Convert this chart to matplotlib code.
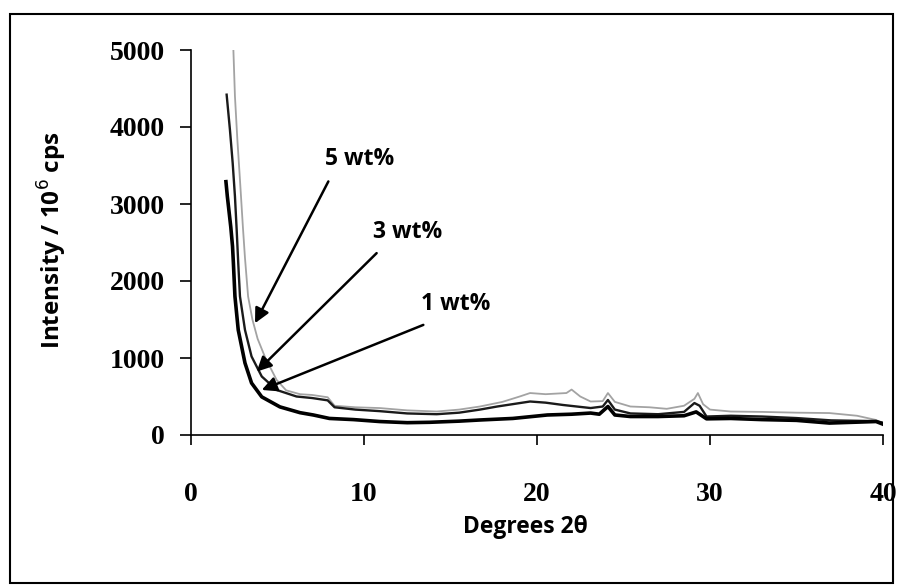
import matplotlib
matplotlib.use("Agg")
import matplotlib.pyplot as plt
from matplotlib.patches import Rectangle

# XRD traces (2-theta in degrees, intensity in 10^6 cps)
x_1wt = [2.02, 2.10, 2.20, 2.30, 2.40, 2.45, 2.54, 2.73, 3.12, 3.50, 4.09, 5.14,
         6.30, 7.07, 8.00, 9.40, 10.9, 12.5, 13.8, 15.5, 16.7, 18.6, 20.6, 22.0,
         23.1, 23.6, 24.1, 24.5, 25.4, 27.0, 28.5, 29.2, 29.8, 31.2, 33.0, 35.0,
         36.9, 39.6, 40.0]
y_1wt = [3290, 3100, 2900, 2700, 2450, 2235, 1800, 1365, 935, 675, 495, 365,
         290, 260, 215, 200, 175, 160, 165, 180, 195, 215, 260, 270,
         285, 270, 370, 260, 240, 240, 250, 300, 210, 215, 200, 190,
         155, 175, 140]

x_3wt = [2.06, 2.25, 2.41, 2.54, 2.64, 2.73, 2.83, 3.12, 3.50, 4.09, 4.95, 6.10,
         7.00, 7.90, 8.30, 9.50, 10.9, 12.5, 14.2, 15.5, 16.7, 17.7, 19.6, 20.5,
         21.5, 23.1, 23.8, 24.1, 24.5, 25.4, 27.0, 28.5, 29.1, 29.4, 29.8, 31.2,
         33.0, 35.0, 37.0, 39.6, 40.0]
y_3wt = [4420, 3965, 3530, 3100, 2665, 2235, 1800, 1365, 1020, 760, 585, 500,
         480, 450, 360, 330, 310, 280, 270, 290, 330, 370, 435, 420,
         390, 350, 370, 455, 330, 280, 270, 300, 415, 380, 240, 250,
         240, 220, 190, 180, 160]

x_5wt = [2.45, 2.54, 2.68, 2.83, 3.00, 3.12, 3.30, 3.55, 3.85, 4.30, 4.95, 5.50,
         6.30, 7.00, 7.90, 8.30, 9.50, 10.9, 12.5, 14.2, 15.5, 16.7, 18.0, 19.0,
         19.6, 20.5, 21.7, 22.0, 22.5, 23.1, 23.8, 24.1, 24.5, 25.4, 26.5, 27.5,
         28.5, 29.1, 29.3, 29.6, 30.0, 31.2, 33.0, 35.0, 36.9, 38.5, 39.6, 40.0]
y_5wt = [5000, 4400, 3835, 3315, 2700, 2300, 1800, 1500, 1250, 1000, 715, 580,
         530, 520, 490, 380, 360, 350, 320, 305, 330, 370, 430, 500,
         545, 530, 545, 590, 500, 435, 440, 545, 430, 370, 360, 340,
         380, 470, 545, 400, 330, 305, 300, 290, 285, 250, 195, 150]

series_labels = ["1 wt%", "3 wt%", "5 wt%"]
x_ticks = [0, 10, 20, 30, 40]
y_ticks = [0, 1000, 2000, 3000, 4000, 5000]

fig = plt.figure(figsize=(8.99, 5.87), dpi=100)
ax = fig.add_axes([191 / 899, 1 - 435 / 587, 692 / 899, 385 / 587])

ax.plot(x_5wt, y_5wt, color="#a3a3a3", lw=1.3, zorder=2)
ax.plot(x_3wt, y_3wt, color="#1a1a1a", lw=1.7, zorder=3)
ax.plot(x_1wt, y_1wt, color="black", lw=2.6, zorder=4)

ax.set_xlim(0, 40)
ax.set_ylim(0, 5000)
ax.set_xticks(x_ticks)
ax.set_yticks(y_ticks)

for side in ("top", "right"):
    ax.spines[side].set_visible(False)
for side in ("left", "bottom"):
    ax.spines[side].set_linewidth(1.2)

tick_font = dict(family="Liberation Serif", weight="bold", size=20)
ax.set_xticklabels([str(v) for v in x_ticks], fontdict=tick_font)
ax.set_yticklabels([str(v) for v in y_ticks], fontdict=tick_font)
ax.tick_params(axis="x", direction="out", length=7, width=1.2, pad=27)
ax.tick_params(axis="y", direction="out", length=8, width=1.2, pad=11)

label_font = dict(family="Open Sans", weight="bold", size=16.5)
fig.text(52 / 899, 1 - 240 / 587, "Intensity / 10$^{6}$ cps", rotation=90,
         ha="center", va="center", family="Open Sans", weight="bold",
         size=17.5)
fig.text(525 / 899, 1 - 527 / 587, "Degrees 2θ", ha="center", va="center",
         **label_font)

# Arrow labels for each loading
arrow_props = dict(arrowstyle="-|>", color="black", lw=1.8, mutation_scale=22,
                   shrinkA=0, shrinkB=0)
ann = [
    ("5 wt%", (3.70, 1452), (7.94, 3293), (9.77, 3590)),
    ("3 wt%", (3.80, 823), (10.73, 2362), (12.51, 2632)),
    ("1 wt%", (4.09, 585), (13.43, 1430), (15.30, 1703)),
]
for text, tip, start, pos in ann:
    ax.annotate("", xy=tip, xytext=start, arrowprops=arrow_props, zorder=5)
    ax.text(pos[0], pos[1], text, ha="center", va="center", **label_font)

fig.patches.append(Rectangle((10 / 899, 1 - 583 / 587), 883 / 899, 569 / 587,
                             transform=fig.transFigure, fill=False,
                             edgecolor="black", lw=1.5))

fig.savefig("out.png", dpi=100)
